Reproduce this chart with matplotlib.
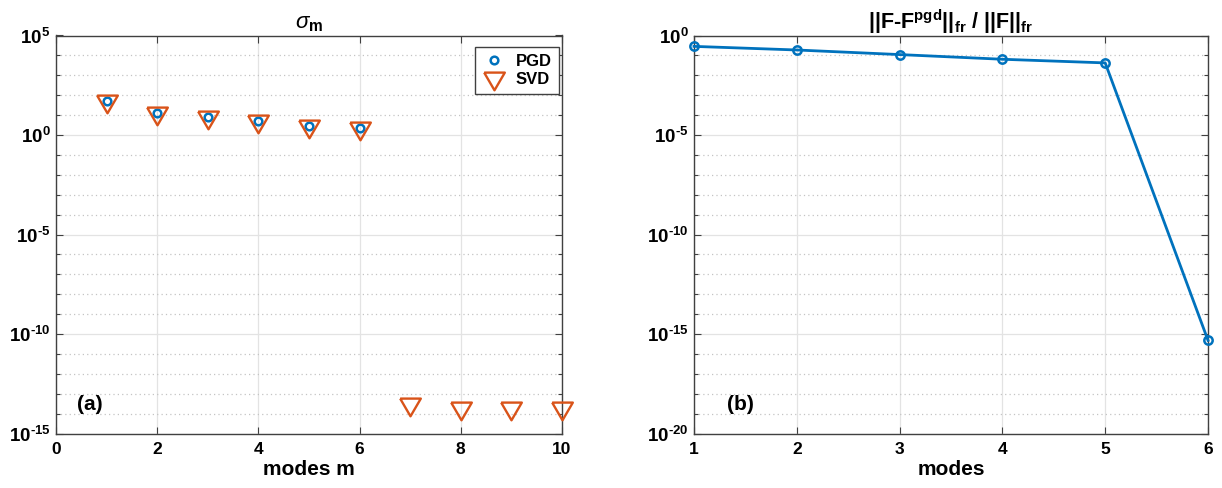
import numpy as np
import matplotlib
matplotlib.use("Agg")
import matplotlib.pyplot as plt
from matplotlib.ticker import FixedLocator, NullFormatter, FuncFormatter

plt.rcParams['font.family'] = ['Liberation Sans', 'DejaVu Sans']
plt.rcParams['mathtext.fontset'] = 'custom'
plt.rcParams['mathtext.rm'] = 'Liberation Sans:bold'
plt.rcParams['mathtext.bf'] = 'Liberation Sans:bold'
plt.rcParams['mathtext.it'] = 'Liberation Sans:italic'

# ---- data ----
pgd_modes = [1, 2, 3, 4, 5, 6]
pgd_sigma = [49, 12.9, 8.5, 5.0, 2.9, 2.2]
svd_modes = [1, 2, 3, 4, 5, 6, 7, 8, 9, 10]
svd_sigma = [49, 12.9, 8.5, 5.0, 2.9, 2.2, 2.9e-14, 1.95e-14, 1.95e-14, 1.95e-14]

err_modes = [1, 2, 3, 4, 5, 6]
err_vals = [0.284, 0.187, 0.11, 0.064, 0.042, 4.8e-16]

left_xticks = [0, 2, 4, 6, 8, 10]
right_xticks = [1, 2, 3, 4, 5, 6]

BLUE = '#0072BD'
ORANGE = '#D95319'
AX_COL = '#404040'

fig = plt.figure(figsize=(12.22, 4.88), dpi=100)
ax1 = fig.add_axes([56/1222, 1 - 433.5/488, 506/1222, 398/488])
ax2 = fig.add_axes([694/1222, 1 - 433.5/488, 514/1222, 398/488])

# triangle marker with centroid at the data point (MATLAB style)
tri = [(-10.5, 6), (10.5, 6), (0, -12), (-10.5, 6)]

def log_fmt(v, pos):
    e = int(round(np.log10(v)))
    if e < 0:
        return r'$10^{\text{-}%d}$' % (-e)
    return r'$10^{%d}$' % e

def style(ax, ymin, ymax, xlim, xticks):
    ax.set_yscale('log')
    ax.set_ylim(ymin, ymax)
    ax.set_xlim(*xlim)
    ax.set_xticks(xticks)
    emin, emax = int(np.log10(ymin)), int(np.log10(ymax))
    ax.yaxis.set_major_locator(FixedLocator([10.0**e for e in range(emin, emax + 1, 5)]))
    ax.yaxis.set_minor_locator(FixedLocator([10.0**e for e in range(emin, emax + 1) if (e - emin) % 5 != 0]))
    ax.yaxis.set_major_formatter(FuncFormatter(log_fmt))
    ax.yaxis.set_minor_formatter(NullFormatter())
    ax.grid(True, which='major', color='#e3e3e3', linestyle='-', linewidth=0.9)
    ax.grid(True, which='minor', axis='y', color='#c4c4c4', linestyle=(0, (1, 2.5)), linewidth=0.9)
    ax.set_axisbelow(True)
    ax.tick_params(which='both', direction='in', top=True, right=True, colors=AX_COL,
                   labelcolor='black', width=0.8)
    ax.tick_params(which='major', length=5, pad=5)
    ax.tick_params(axis='x', which='major', labelsize=12.5, pad=6)
    ax.tick_params(axis='y', which='major', labelsize=13.5, pad=4)
    ax.tick_params(which='minor', length=3)
    for lab in ax.get_xticklabels():
        lab.set_fontweight('bold')
    for sp in ax.spines.values():
        sp.set_color(AX_COL)
        sp.set_linewidth(1.0)

style(ax1, 1e-15, 1e5, (0, 10), left_xticks)
style(ax2, 1e-20, 1e0, (1, 6), right_xticks)

# ---- left panel ----
ax1.plot(pgd_modes, pgd_sigma, linestyle='none', marker='o', markersize=5.5,
         markerfacecolor='none', markeredgecolor=BLUE, markeredgewidth=1.8,
         label='PGD', clip_on=False, zorder=3)
ax1.plot(svd_modes, svd_sigma, linestyle='none', marker=tri, markersize=17,
         markerfacecolor='none', markeredgecolor=ORANGE, markeredgewidth=1.7,
         label='SVD', clip_on=False, zorder=3)
ax1.set_title(r'$\sigma_{\mathrm{m}}$', fontsize=16, pad=5)
ax1.set_xlabel('modes m', fontsize=15, fontweight='bold', labelpad=2)
ax1.text(0.67, 10**-13.56, '(a)', fontsize=15, fontweight='bold', ha='center', va='center')
leg = ax1.legend(loc='upper right', bbox_to_anchor=(0.994, 0.972), borderaxespad=0,
                 prop={'weight': 'bold', 'size': 12}, fancybox=False, framealpha=1,
                 edgecolor=AX_COL, handletextpad=0.6, borderpad=0.45, labelspacing=0.15,
                 handlelength=1.4)
leg.get_frame().set_linewidth(1.0)

# ---- right panel ----
ax2.plot(err_modes, err_vals, color=BLUE, linewidth=2.0, marker='o', markersize=6,
         markerfacecolor='none', markeredgecolor=BLUE, markeredgewidth=1.8,
         clip_on=False, zorder=3)
ax2.set_title(r'$||\mathrm{F\text{-}F}^{\mathrm{pgd}}||_{\mathrm{fr}}\ /\ ||\mathrm{F}||_{\mathrm{fr}}$',
              fontsize=15.5, pad=5)
ax2.set_xlabel('modes', fontsize=15, fontweight='bold', labelpad=2)
ax2.text(1.45, 10**-18.56, '(b)', fontsize=15, fontweight='bold', ha='center', va='center')

fig.savefig('out.png', dpi=100)
